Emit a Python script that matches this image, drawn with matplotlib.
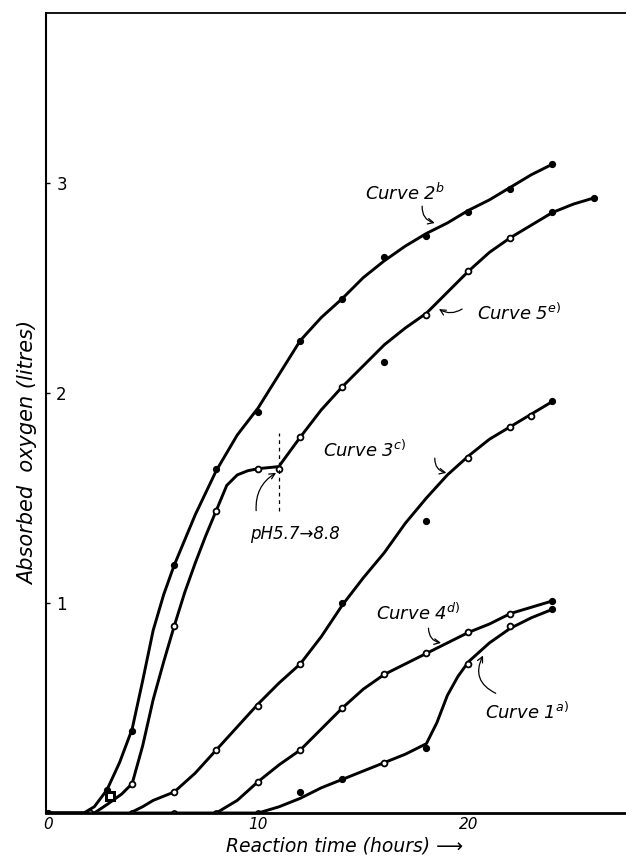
import matplotlib.pyplot as plt

# line traces (hours, litres)
c2_t = [0, 1.7, 2.2, 2.8, 3.4, 4.0, 4.5, 5.0, 5.5, 6.0, 7.0, 8.0, 9.0, 10.0, 11.0, 12.0,
        13.0, 14.0, 15.0, 16.0, 17.0, 18.0, 19.0, 20.0, 21.0, 22.0, 23.0, 24.0]
c2_v = [0, 0, 0.03, 0.11, 0.24, 0.40, 0.63, 0.87, 1.04, 1.18, 1.42, 1.63, 1.80, 1.93, 2.09, 2.25,
        2.36, 2.45, 2.55, 2.63, 2.70, 2.76, 2.81, 2.87, 2.92, 2.98, 3.04, 3.09]

c5_t = [0, 2.2, 2.8, 3.5, 4.0, 4.5, 5.0, 5.5, 6.0, 6.5, 7.0, 7.5, 8.0, 8.5, 9.0, 9.5, 10.0,
        11.0, 11.05, 12.0, 13.0, 14.0, 15.0, 16.0, 17.0, 18.0, 19.0, 20.0, 21.0, 22.0, 23.0,
        24.0, 25.0, 26.0]
c5_v = [0, 0, 0.04, 0.09, 0.14, 0.32, 0.54, 0.72, 0.89, 1.05, 1.19, 1.32, 1.44, 1.56, 1.61, 1.63, 1.64,
        1.65, 1.66, 1.79, 1.92, 2.03, 2.13, 2.23, 2.31, 2.38, 2.48, 2.58, 2.67, 2.74, 2.80,
        2.86, 2.90, 2.93]

c3_t = [3.9, 4.5, 5.0, 6.0, 7.0, 8.0, 9.0, 10.0, 11.0, 12.0, 13.0, 14.0, 15.0, 16.0, 17.0,
        18.0, 19.0, 20.0, 21.0, 22.0, 23.0, 24.0]
c3_v = [0, 0.03, 0.06, 0.10, 0.19, 0.30, 0.41, 0.52, 0.62, 0.71, 0.84, 0.99, 1.12, 1.24, 1.38,
        1.50, 1.61, 1.70, 1.78, 1.84, 1.90, 1.96]

c4_t = [8.0, 9.0, 10.0, 11.0, 12.0, 13.0, 14.0, 15.0, 16.0, 17.0, 18.0, 19.0, 20.0, 21.0,
        22.0, 23.0, 24.0]
c4_v = [0, 0.06, 0.15, 0.23, 0.30, 0.40, 0.50, 0.59, 0.66, 0.71, 0.76, 0.81, 0.86, 0.90,
        0.95, 0.98, 1.01]

c1_t = [0, 10, 11, 12, 13, 14, 15, 16, 17, 18, 18.5, 19.0, 19.5, 20.0, 21.0, 22.0, 23.0, 24.0]
c1_v = [0, 0, 0.03, 0.07, 0.12, 0.16, 0.20, 0.24, 0.28, 0.33, 0.43, 0.56, 0.65, 0.72, 0.81,
        0.88, 0.93, 0.97]

# measured points
filled_t = [0, 2.8, 4, 6, 8, 10, 12, 14, 16, 18, 20, 22, 24,
            16, 24, 26,
            14, 18, 24,
            24,
            12, 14, 18, 24]
filled_v = [0, 0.11, 0.39, 1.18, 1.64, 1.91, 2.25, 2.45, 2.65, 2.75, 2.86, 2.97, 3.09,
            2.15, 2.86, 2.93,
            1.00, 1.39, 1.96,
            1.01,
            0.10, 0.16, 0.31, 0.97]
open_t = [2, 4, 6, 8, 10, 11, 12, 14, 18, 20, 22,
          6, 8, 10, 12, 20, 22, 23,
          10, 12, 14, 16, 18, 20, 22,
          16, 20, 22]
open_v = [0, 0.14, 0.89, 1.44, 1.64, 1.64, 1.79, 2.03, 2.37, 2.58, 2.74,
          0.10, 0.30, 0.51, 0.71, 1.69, 1.84, 1.89,
          0.15, 0.30, 0.50, 0.66, 0.76, 0.86, 0.95,
          0.24, 0.71, 0.89]
base_t = [4, 6, 8, 10]
square_t = [2.95]
square_v = [0.08]

plt.rcParams['font.family'] = ['DejaVu Sans']
fig = plt.figure(figsize=(6.26, 8.6), dpi=100)
ax = fig.add_axes([46 / 626, 47 / 860, 580 / 626, 800 / 860])

for t, v in [(c2_t, c2_v), (c5_t, c5_v), (c3_t, c3_v), (c4_t, c4_v), (c1_t, c1_v)]:
    ax.plot(t, v, color='black', lw=2.1, solid_capstyle='round', solid_joinstyle='round')

ax.plot(filled_t, filled_v, 'o', color='black', ms=4.2, ls='none')
ax.plot(open_t, open_v, 'o', mfc='white', mec='black', mew=1.3, ms=4.2, ls='none')
ax.plot(base_t, [0] * len(base_t), 'o', mfc='white', mec='black', mew=1.3, ms=3.6, ls='none')
ax.plot(square_t, square_v, 's', mfc='white', mec='black', mew=2.2, ms=6, ls='none')

# pH change marker
ax.plot([11, 11], [1.44, 1.81], color='black', lw=0.9, ls=(0, (3, 3)))

fs = 13
kw = dict(style='italic', fontsize=fs, va='center', ha='left')
ax.text(15.1, 2.95, 'Curve 2$^{b}$', **kw)
ax.text(20.4, 2.38, 'Curve 5$^{e)}$', **kw)
ax.text(13.1, 1.73, 'Curve 3$^{c)}$', **kw)
ax.text(15.6, 0.95, 'Curve 4$^{d)}$', **kw)
ax.text(20.8, 0.48, 'Curve 1$^{a)}$', **kw)
ax.text(9.6, 1.33, 'pH5.7→8.8', style='italic', fontsize=12, va='center', ha='left')

arr = dict(arrowstyle='->', color='black', lw=0.9, shrinkA=0, shrinkB=0)
ax.annotate('', xy=(18.4, 2.81), xytext=(17.8, 2.89),
            arrowprops=dict(arr, connectionstyle='arc3,rad=0.4'))
ax.annotate('', xy=(18.6, 2.40), xytext=(19.7, 2.40),
            arrowprops=dict(arr, connectionstyle='arc3,rad=-0.3'))
ax.annotate('', xy=(18.95, 1.62), xytext=(18.4, 1.69),
            arrowprops=dict(arr, connectionstyle='arc3,rad=0.4'))
ax.annotate('', xy=(18.7, 0.81), xytext=(18.1, 0.88),
            arrowprops=dict(arr, connectionstyle='arc3,rad=0.4'))
ax.annotate('', xy=(20.7, 0.75), xytext=(21.3, 0.57),
            arrowprops=dict(arr, connectionstyle='arc3,rad=-0.5'))
ax.annotate('', xy=(10.85, 1.62), xytext=(9.9, 1.44),
            arrowprops=dict(arr, connectionstyle='arc3,rad=-0.3'))

ax.set_xlim(-0.1, 27.5)
ax.set_ylim(0, 3.81)
ax.set_xticks([0, 10, 20])
ax.set_xticklabels(['0', '10', '20'], style='italic', fontsize=11)
ax.set_yticks([1, 2, 3])
ax.set_yticklabels(['1', '2', '3'], fontsize=12)
ax.tick_params(axis='x', length=0, pad=3)
ax.tick_params(axis='y', direction='in', length=3, width=1, pad=-15)

ax.spines['right'].set_visible(False)
ax.spines['left'].set_linewidth(1.5)
ax.spines['bottom'].set_linewidth(2.0)
ax.spines['top'].set_linewidth(1.3)

ax.set_xlabel('Reaction time (hours) ⟶', style='italic', fontsize=13.5)
ax.xaxis.set_label_coords(0.515, -0.029)
ax.set_ylabel('Absorbed  oxygen (litres)', style='italic', fontsize=15)
ax.yaxis.set_label_coords(-0.014, 0.45)

plt.savefig('out.png', dpi=100)
